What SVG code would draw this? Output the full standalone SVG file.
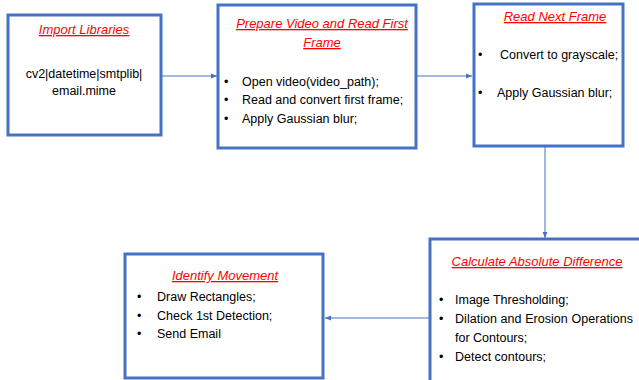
<svg xmlns="http://www.w3.org/2000/svg" width="639" height="380" viewBox="0 0 639 380">
<style>
.box{fill:#fff;stroke:#4472C4;stroke-width:3}
.t{font-family:"Liberation Sans",Arial,sans-serif;font-size:13px;font-style:italic;fill:#FF0000;text-decoration:underline;text-anchor:middle}
.b{font-family:"Liberation Sans",Arial,sans-serif;font-size:12.5px;fill:#000}
.c{stroke:#4472C4;stroke-width:1;fill:none}
</style>
<defs>
<marker id="ah" viewBox="0 0 10 10" refX="10" refY="5" markerWidth="6" markerHeight="6" orient="auto" markerUnits="userSpaceOnUse">
<path d="M0,1 L10,5 L0,9 z" fill="#4472C4"/>
</marker>
</defs>
<rect width="639" height="380" fill="#fff"/>
<g id="connectors">
<line class="c" x1="161" y1="76" x2="217" y2="76" marker-end="url(#ah)"/>
<line class="c" x1="416" y1="76" x2="472" y2="76" marker-end="url(#ah)"/>
<line class="c" x1="545" y1="147" x2="545" y2="238" marker-end="url(#ah)"/>
<line class="c" x1="429" y1="318" x2="325" y2="318" marker-end="url(#ah)"/>
</g>
<g id="import">
<rect class="box" x="8" y="15" width="153" height="120"/>
<text class="t" x="84" y="34">Import Libraries</text>
<text class="b" x="84" y="78" text-anchor="middle">cv2|datetime|smtplib|</text>
<text class="b" x="84" y="95" text-anchor="middle">email.mime</text>
</g>
<g id="prepare">
<rect class="box" x="218" y="5" width="198" height="143"/>
<text class="t" x="322" y="28">Prepare Video and Read First</text>
<text class="t" x="322" y="47">Frame</text>
<text class="b" x="224" y="86">•</text><text class="b" x="242" y="86">Open video(video_path);</text>
<text class="b" x="224" y="104">•</text><text class="b" x="242" y="104">Read and convert first frame;</text>
<text class="b" x="224" y="123">•</text><text class="b" x="242" y="123">Apply Gaussian blur;</text>
</g>
<g id="readnext">
<rect class="box" x="474" y="4" width="149" height="142"/>
<text class="t" x="555" y="21">Read Next Frame</text>
<text class="b" x="478" y="59">•</text><text class="b" x="500" y="59">Convert to grayscale;</text>
<text class="b" x="478" y="97">•</text><text class="b" x="497" y="97">Apply Gaussian blur;</text>
</g>
<g id="absdiff">
<rect class="box" x="430" y="239" width="220" height="150"/>
<text class="t" x="537" y="266">Calculate Absolute Difference</text>
<text class="b" x="439" y="304">•</text><text class="b" x="455" y="304">Image Thresholding;</text>
<text class="b" x="439" y="323">•</text><text class="b" x="455" y="323" textLength="178" lengthAdjust="spacing">Dilation and Erosion Operations</text>
<text class="b" x="455" y="342">for Contours;</text>
<text class="b" x="439" y="361">•</text><text class="b" x="455" y="361">Detect contours;</text>
</g>
<g id="identify">
<rect class="box" x="125" y="254" width="198" height="124"/>
<text class="t" x="225" y="280">Identify Movement</text>
<text class="b" x="137" y="301">•</text><text class="b" x="157" y="301">Draw Rectangles;</text>
<text class="b" x="137" y="320">•</text><text class="b" x="157" y="320">Check 1st Detection;</text>
<text class="b" x="137" y="338">•</text><text class="b" x="157" y="338">Send Email</text>
</g>
</svg>
